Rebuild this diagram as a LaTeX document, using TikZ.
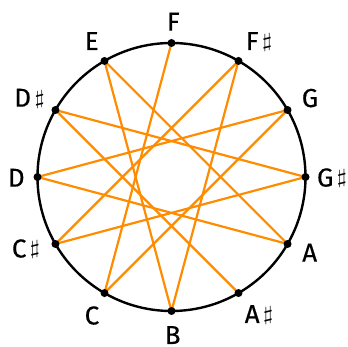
\documentclass[tikz,border=0pt]{standalone}
\usepackage{fontspec}
\usepackage{graphicx}
\usetikzlibrary{calc}
\setmainfont{Fira Sans}
\newfontfamily\labfont{Fira Sans}[FakeBold=0.4]
\definecolor{starorange}{RGB}{255,140,0}
\newcommand\shp{\hspace{3.5pt}\raisebox{2.5pt}{\scalebox{2.6}[2.0]{\fontsize{10}{10}\selectfont$\sharp$}}}
\begin{document}
\begin{tikzpicture}[x=1pt,y=1pt,
  rim/.style={draw=black,line width=2.4pt},
  starline/.style={draw=starorange,line width=2.2pt},
  dot/.style={circle,fill=black,inner sep=0pt,minimum size=8pt},
  note/.style={anchor=base,inner sep=0pt,font=\labfont\fontsize{26}{26}\selectfont}]
\useasboundingbox (0,0) rectangle (348,347);
\coordinate (O) at (171.5,170);
\draw[rim] (O) circle[radius=134];
% points on the circle
\foreach \n/\a in {F/90,Fs/60,G/30,Gs/0,A/-30,As/-60,B/-90,C/-120,Cs/-150,D/180,Ds/150,E/120}{
  \coordinate (p\n) at ($(O)+(\a:134)$);
}
% star path F-C-G-D-A-E-B-F#-C#-G#-D#-A#
\foreach \u/\v in {F/C,C/G,G/D,D/A,A/E,E/B,B/Fs,Fs/Cs,Cs/Gs,Gs/Ds,Ds/As}{
  \draw[starline] (p\u) -- (p\v);
}
\foreach \n in {F,Fs,G,Gs,A,As,B,C,Cs,D,Ds,E}{
  \node[dot] (d\n) at (p\n) {};
}
% labels
\node[note] (lF)  at (173.3,316.3) {F};
\node[note] (lFs) at (259,297)     {F\shp};
\node[note] (lG)  at (310,240)     {G};
\node[note] (lGs) at (332,160.5)   {G\shp};
\node[note] (lA)  at (309.7,85.3)  {A};
\node[note] (lAs) at (259,24)      {A\shp};
\node[note] (lB)  at (172.7,3)     {B};
\node[note] (lC)  at (92,22.5)     {C};
\node[note] (lCs) at (26,89.5)     {C\shp};
\node[note] (lD)  at (16.3,160.3)  {D};
\node[note] (lDs) at (29.5,240.3)  {D\shp};
\node[note] (lE)  at (91.7,297)    {E};
\end{tikzpicture}
\end{document}
